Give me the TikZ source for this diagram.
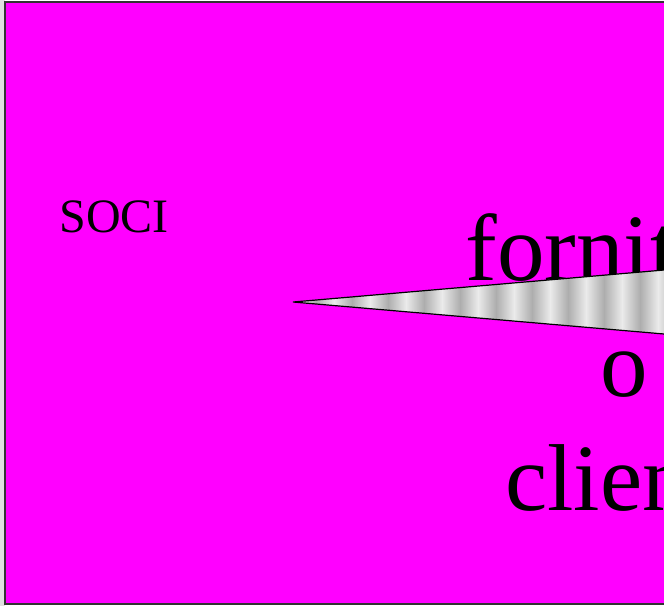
\documentclass[tikz,border=0pt]{standalone}
\usepackage{fontspec}
\setmainfont{Liberation Serif}
\definecolor{pagemag}{RGB}{255,0,255}
\tikzset{
  bigtext/.style={font=\fontsize{95}{110}\selectfont, anchor=base, inner sep=0pt},
  smalltext/.style={font=\fontsize{48}{52}\selectfont, inner sep=0pt},
  lightband/.style={left color=black!8, right color=black!32},
  darkband/.style={left color=black!32, right color=black!8}
}
\begin{document}
\begin{tikzpicture}[x=1pt,y=-1pt]
\useasboundingbox (0,0) rectangle (664,606);
\clip (0,0) rectangle (664,606);
\fill[black!12] (0,0) rectangle (5,606);
\draw[fill=pagemag, draw=black!80, line width=1.5pt] (5,2) rectangle (690,604);
\node[smalltext] (soci) at (114,217) {SOCI};
\node[bigtext] (forn) at (624,280) {fornitori};
\node[bigtext] (o) at (624,396) {o};
\node[bigtext] (clie) at (624,510) {clienti};
\coordinate (tip) at (293,302);
\coordinate (up) at (700,266.9);
\coordinate (lo) at (700,337.1);
\begin{scope}
  \clip (tip) -- (up) -- (lo) -- cycle;
  \fill[white] (280,250) rectangle (710,350);
  \foreach \i in {0,...,12} {
    \shade[darkband] ({280+\i*36},250) rectangle +(18,100);
    \shade[lightband] ({298+\i*36},250) rectangle +(18,100);
  }
\end{scope}
\draw[line width=1.2pt, line join=miter] (up) -- (tip) -- (lo);
\end{tikzpicture}
\end{document}
